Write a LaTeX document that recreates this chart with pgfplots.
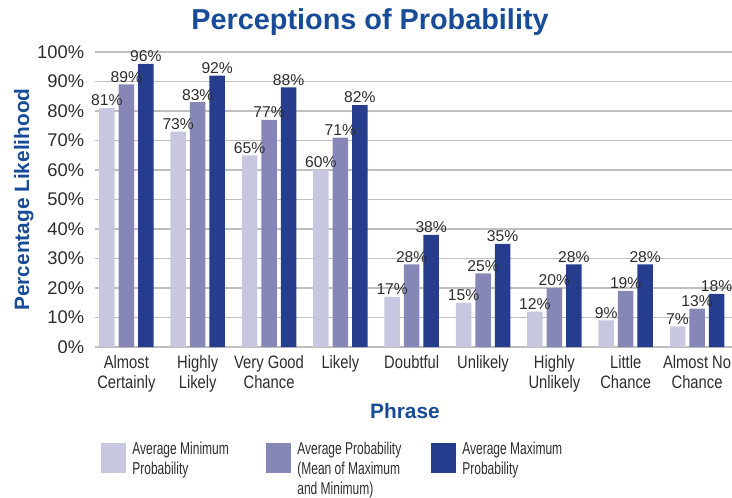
\documentclass[border=0pt]{standalone}
\usepackage{fontspec}
\setmainfont{Liberation Sans}
\newfontfamily\narrowA{Liberation Sans}[FakeStretch=0.82]
\newfontfamily\narrowB{Liberation Sans}[FakeStretch=0.70]
\newfontfamily\titlefont{Liberation Sans}
\usepackage{pgfplots}
\pgfplotsset{compat=1.18}
\definecolor{cLight}{RGB}{199,200,224}
\definecolor{cMid}{RGB}{134,135,182}
\definecolor{cDark}{RGB}{37,61,140}
\definecolor{cTitle}{RGB}{24,76,152}
\definecolor{cText}{RGB}{45,45,45}
\begin{document}
\begin{tikzpicture}
\begin{axis}[
  x=42.8pt, y=1.77pt,
  xmin=-0.44, xmax=8.6, ymin=0, ymax=100,
  ybar=2.4pt, bar width=9.3pt,
  axis line style={draw=none},
  major tick length=0pt,
  ymajorgrids, grid style={draw=black!25, line width=0.7pt},
  ytick={0,10,...,100},
  yticklabel={\pgfmathprintnumber{\tick}\%},
  /pgf/number format/assume math mode=true,
  yticklabel style={font=\fontsize{11}{13}\selectfont, text=cText, xshift=-3pt},
  xtick=data,
  xticklabels={Almost\\Certainly, Highly\\Likely, Very Good\\Chance, Likely, Doubtful, Unlikely, Highly\\Unlikely, Little\\Chance, Almost No\\Chance},
  xticklabel style={align=center, font=\narrowA\fontsize{10.8}{12}\selectfont, text=cText, yshift=-1.8pt},
  nodes near coords={\pgfmathprintnumber{\pgfplotspointmeta}\%},
  nodes near coords style={font=\fontsize{9.4}{11}\selectfont, text=cText, inner sep=1pt},
  title={\titlefont\bfseries Perceptions of Probability},
  title style={at={(rel axis cs:0.4265,1.1017)}, anchor=center, yshift=-6pt, font=\fontsize{17.3}{20}\selectfont, text=cTitle},
  xlabel={\titlefont\bfseries Phrase},
  xlabel style={at={(rel axis cs:0.4807,-0.217)}, anchor=center, font=\fontsize{12.5}{14}\selectfont, text=cTitle},
  ylabel={\titlefont\bfseries Percentage Likelihood},
  ylabel style={at={(rel axis cs:-0.1105,0.5)}, anchor=center, rotate=0, font=\fontsize{12.5}{14}\selectfont, text=cTitle},
  legend columns=3,
  legend style={at={(rel axis cs:0.0093,-0.3254)}, anchor=north west, yshift=0.6pt, draw=none, fill=none, inner sep=0pt,
    font=\narrowB\fontsize{10.3}{12}\selectfont, text=cText,
    nodes={inner sep=0pt},
    /tikz/every odd column/.append style={column sep=3.6pt},
    /tikz/every even column/.append style={column sep=2.4pt}},
  legend image code/.code={\fill[#1] (0pt,-13.8pt) rectangle (15pt,4.2pt);},
]
\addplot[fill=cLight, draw=none] coordinates {(0,81) (1,73) (2,65) (3,60) (4,17) (5,15) (6,12) (7,9) (8,7)};
\addplot[fill=cMid, draw=none] coordinates {(0,89) (1,83) (2,77) (3,71) (4,28) (5,25) (6,20) (7,19) (8,13)};
\addplot[fill=cDark, draw=none] coordinates {(0,96) (1,92) (2,88) (3,82) (4,38) (5,35) (6,28) (7,28) (8,18)};
\addlegendentry{\parbox[t]{78pt}{\raggedright Average Minimum\\Probability}}
\addlegendentry{\parbox[t]{78pt}{\raggedright Average Probability\\(Mean of Maximum\\and Minimum)}}
\addlegendentry{\parbox[t]{78pt}{\raggedright Average Maximum\\Probability}}
\coordinate (O) at (rel axis cs:0,0);
\end{axis}
\pgfresetboundingbox
\path[use as bounding box] ([shift={(-57pt,-90pt)}]O) rectangle ([shift={(382.2pt,208.2pt)}]O);
\end{tikzpicture}
\end{document}
